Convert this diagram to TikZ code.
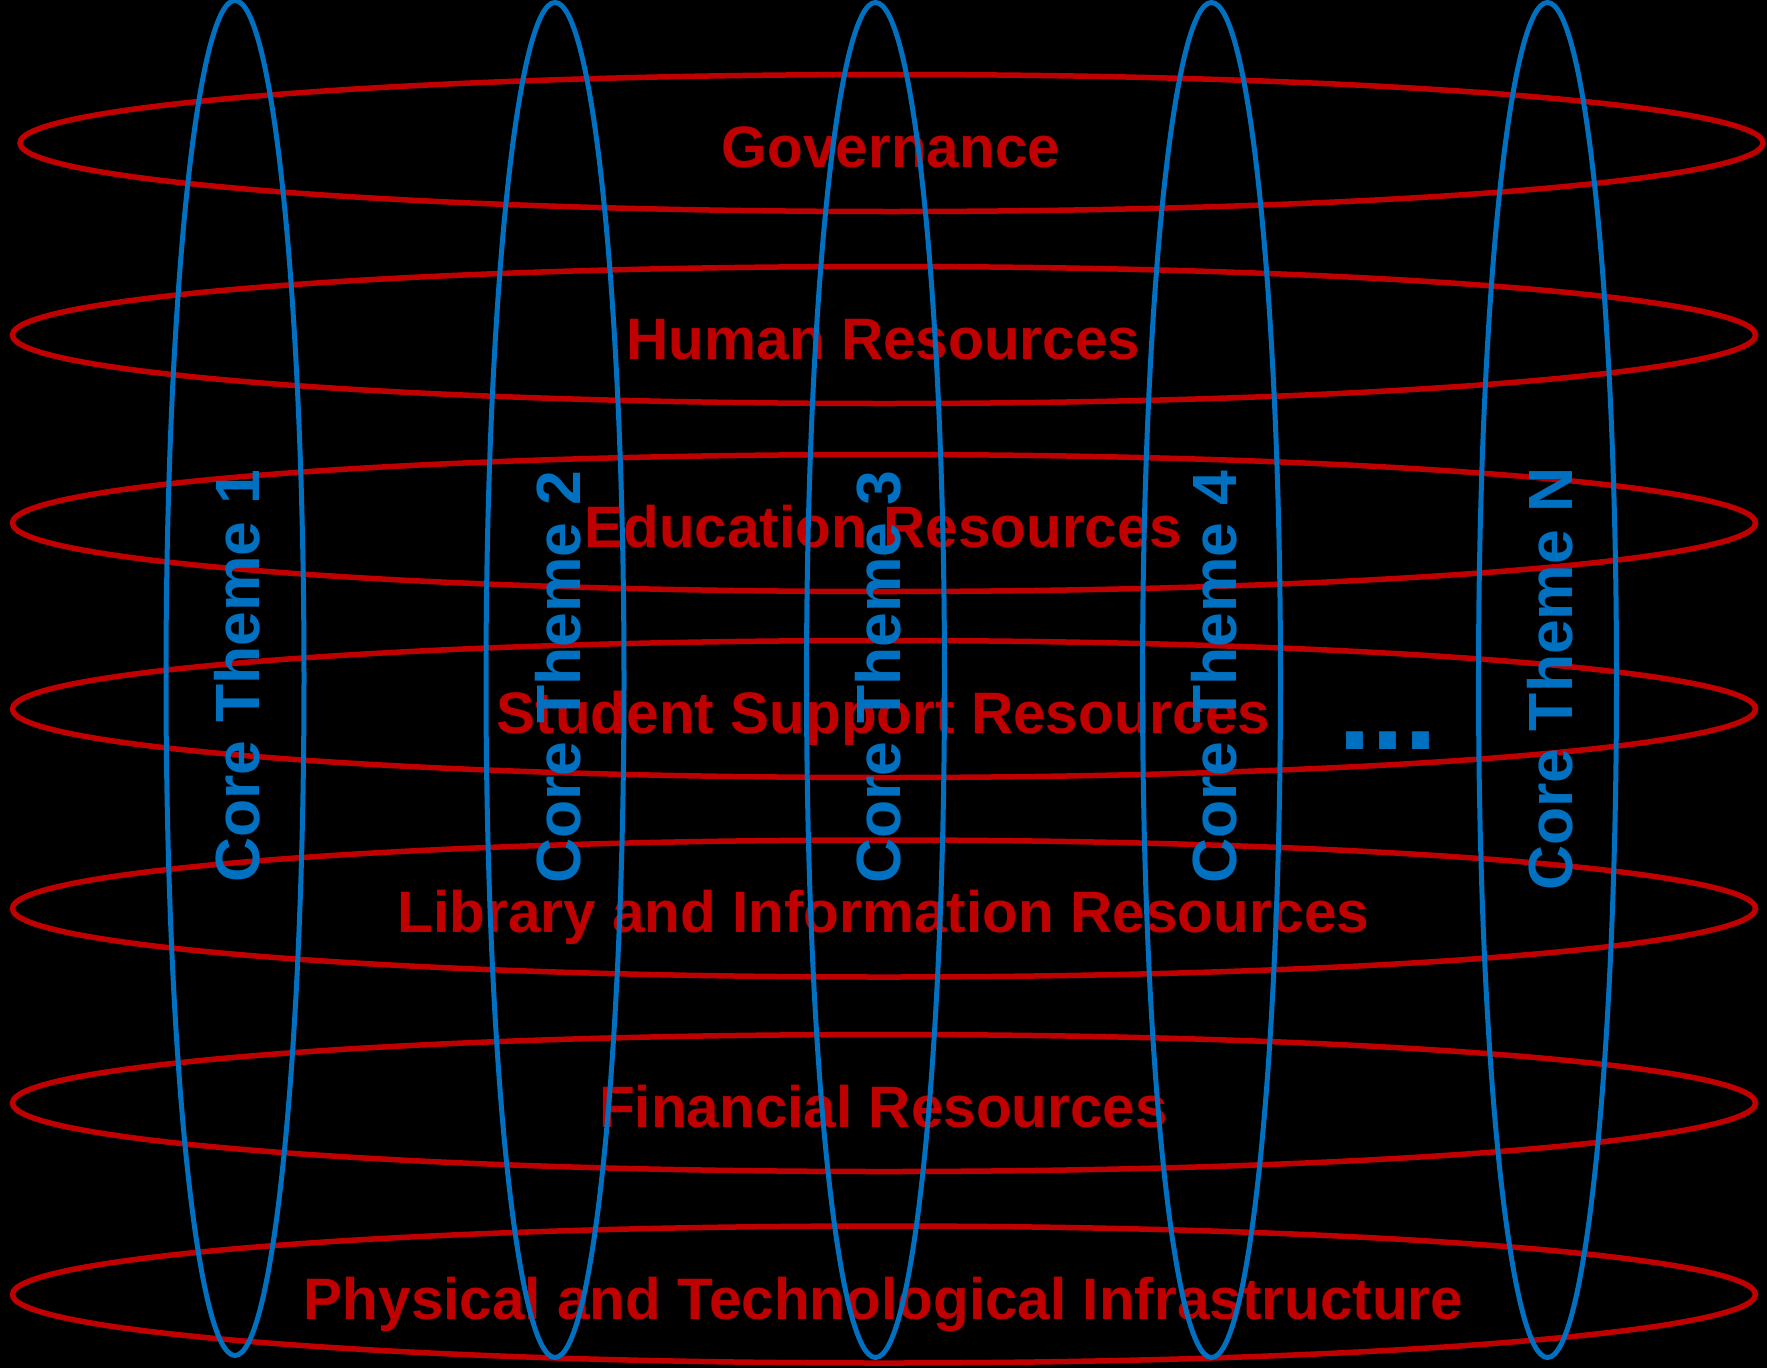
\documentclass[tikz,border=0pt]{standalone}
\usepackage{fontspec}
\setmainfont{Liberation Sans}
\usetikzlibrary{shapes.geometric}
\definecolor{rring}{HTML}{C00000}
\definecolor{bring}{HTML}{0070C0}
\begin{document}
\begin{tikzpicture}[x=1pt,y=-1pt,
  redring/.style={ellipse,draw=rring,line width=5.5pt,minimum width=1743pt,minimum height=137pt,inner sep=0pt},
  bluering/.style={ellipse,draw=bring,line width=5pt,minimum width=138pt,minimum height=1355pt,inner sep=0pt},
  redlabel/.style={text=rring,font=\fontsize{58.5}{60}\selectfont\bfseries,inner sep=0pt,text height=42pt,text depth=0pt},
  bluelabel/.style={text=bring,font=\fontsize{62.5}{64}\selectfont\bfseries,inner sep=0pt,text height=45pt,text depth=0pt,rotate=90},
  dotslabel/.style={text=bring,font=\fontsize{119}{120}\selectfont\bfseries,inner sep=0pt,anchor=base}]
\fill[black] (0,0) rectangle (1767,1368);
\useasboundingbox (0,0) rectangle (1767,1368);
% horizontal rings
\node[redring] (gov) at (891.5,143) {};
\node[redring] (hr) at (884,335) {};
\node[redring] (edu) at (884,523) {};
\node[redring] (stu) at (884,709) {};
\node[redring] (lib) at (884,908.5) {};
\node[redring] (fin) at (884,1103) {};
\node[redring] (phy) at (884,1294.5) {};
% labels of horizontal rings
\node[redlabel] (govt) at (891,146.5) {Governance};
\node[redlabel] (hrt) at (883.5,338) {Human Resources};
\node[redlabel] (edut) at (883.5,526) {Education Resources};
\node[redlabel] (stut) at (883.5,712) {Student Support Resources};
\node[redlabel] (libt) at (883.5,911.5) {Library and Information Resources};
\node[redlabel] (fint) at (883.5,1106) {Financial Resources};
\node[redlabel] (phyt) at (883.5,1298) {Physical and Technological Infrastructure};
% vertical rings
\node[bluering] (ct1) at (235,678) {};
\node[bluering] (ct2) at (555,680) {};
\node[bluering] (ct3) at (875.5,680) {};
\node[bluering] (ct4) at (1211.5,680) {};
\node[bluering] (ctn) at (1547.5,680) {};
% labels of vertical rings
\node[bluelabel] (ct1t) at (236.7,676) {Core Theme 1};
\node[bluelabel] (ct2t) at (558,677) {Core Theme 2};
\node[bluelabel] (ct3t) at (878,677) {Core Theme 3};
\node[bluelabel] (ct4t) at (1214,677) {Core Theme 4};
\node[bluelabel] (ctnt) at (1549.5,679) {Core Theme N};
\node[dotslabel] (dots) at (1388,749) {...};
\end{tikzpicture}
\end{document}
